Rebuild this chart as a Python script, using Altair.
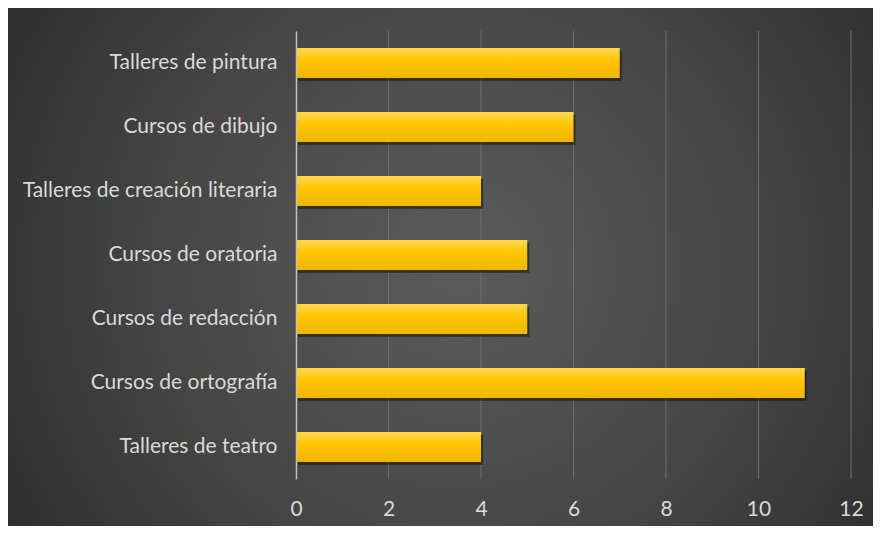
import altair as alt
import pandas as pd

categories = [
    "Talleres de pintura",
    "Cursos de dibujo",
    "Talleres de creación literaria",
    "Cursos de oratoria",
    "Cursos de redacción",
    "Cursos de ortografía",
    "Talleres de teatro",
]
values = [7, 6, 4, 5, 5, 11, 4]
x_ticks = [0, 2, 4, 6, 8, 10, 12]

df = pd.DataFrame({"cat": categories, "val": values})
grid_df = pd.DataFrame({"val": x_ticks[1:]})

W, H = 555, 448
PL, PT, PR, PB = 288, 23, 22, 47

FONT = "Lato"
FS = 21
LABEL = "#d9d9d9"

bg = alt.Chart(pd.DataFrame({"a": [0]})).mark_rect(
    fill={
        "gradient": "radial",
        "x1": 0.52, "y1": 0.5, "r1": 0,
        "x2": 0.52, "y2": 0.5, "r2": 0.7,
        "stops": [
            {"offset": 0, "color": "#5c5c5c"},
            {"offset": 0.5, "color": "#454545"},
            {"offset": 1, "color": "#242424"},
        ],
    }
).encode(
    x=alt.value(-PL), x2=alt.value(W + PR),
    y=alt.value(-PT), y2=alt.value(H + PB),
)

xscale = alt.Scale(domain=[0, 12], nice=False)
xaxis = alt.Axis(
    values=x_ticks, domain=False, ticks=False, grid=False,
    labelPadding=19, zindex=1, labelFlush=False,
    labelFont=FONT, labelFontSize=FS, labelColor=LABEL,
)

grid = alt.Chart(grid_df).mark_rule(color="#6e6e6e", strokeWidth=1).encode(
    x=alt.X("val:Q", scale=xscale, axis=xaxis, title=None),
    y=alt.value(0), y2=alt.value(H),
)

yenc = alt.Y(
    "cat:N", sort=categories, title=None,
    scale=alt.Scale(paddingInner=0.53, paddingOuter=0.265),
    axis=alt.Axis(
        domain=True, domainColor="#bfbfbf", domainWidth=1.5,
        ticks=False, labelPadding=19, labelFont=FONT, labelFontSize=FS,
        labelColor=LABEL, grid=False, labelLimit=400, zindex=1,
    ),
)
xenc = alt.X("val:Q", title=None, scale=xscale, axis=xaxis)

shadow = alt.Chart(df).mark_bar(
    color="#141414", opacity=0.55, xOffset=2, yOffset=3
).encode(x=xenc, y=yenc)

bars = alt.Chart(df).mark_bar(
    fill={
        "gradient": "linear",
        "x1": 0, "y1": 0, "x2": 0, "y2": 1,
        "stops": [
            {"offset": 0, "color": "#ffd84f"},
            {"offset": 0.45, "color": "#ffc400"},
            {"offset": 1, "color": "#f2b600"},
        ],
    }
).encode(x=xenc, y=yenc)

chart = alt.layer(bg, grid, shadow, bars).properties(
    width=W, height=H,
    padding={"left": PL, "top": PT, "right": PR, "bottom": PB},
    autosize=alt.AutoSizeParams(type="none"),
    background="#262626",
).configure_view(stroke=None)

chart.save("out.html", embed_options={"renderer": "svg", "actions": False})
